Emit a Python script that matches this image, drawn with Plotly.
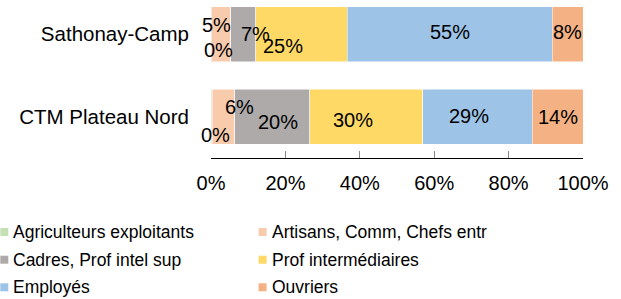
import plotly.graph_objects as go

categories = ["CTM Plateau Nord", "Sathonay-Camp"]
series_names = ["Agriculteurs exploitants", "Artisans, Comm, Chefs entr",
                "Cadres, Prof intel sup", "Prof intermédiaires", "Employés", "Ouvriers"]
agriculteurs = [0.3, 0.1]
artisans = [6.1, 5.2]
cadres = [20.1, 6.7]
prof_inter = [30.4, 24.6]
employes = [29.4, 55.1]
ouvriers = [13.7, 8.3]
tick_vals = [0, 20, 40, 60, 80, 100]
tick_labels = ["0%", "20%", "40%", "60%", "80%", "100%"]

series_values = [agriculteurs, artisans, cadres, prof_inter, employes, ouvriers]
colors = ["#c5e0b4", "#f8cbad", "#aeaaaa", "#ffd966", "#9dc3e6", "#f4b183"]

# label pixel offsets (style only): [series][category] -> (xshift, yshift)
label_offsets = [
    [(4, -18), (7, -16)],
    [(16, 10), (-5, 9)],
    [(6, -5), (12, 0)],
    [(-13, -3), (-18, -12)],
    [(-8, 1), (0, 2)],
    [(0, 0), (0, 2)],
]

FONT = "Liberation Sans, Arial, sans-serif"
W, H = 621, 299
ML, MR, MT, MB = 210.7, 38.3, 0, 141
PLOT_W = W - ML - MR
PLOT_H = H - MT - MB
BAND = 82.6  # px per category


def px_x(p):
    return (p - ML) / PLOT_W


def px_y(p):
    return (PLOT_H - p) / PLOT_H


fig = go.Figure()
for name, vals, col in zip(series_names, series_values, colors):
    fig.add_trace(go.Bar(
        name=name, y=categories, x=vals, orientation="h",
        marker=dict(color=col, line=dict(color="white", width=0.5)),
        cliponaxis=False, hoverinfo="skip"))

annotations = []
cum = [0.0] * len(categories)
for si, vals in enumerate(series_values):
    for ci, v in enumerate(vals):
        center = cum[ci] + v / 2
        cum[ci] += v
        dx, dy = label_offsets[si][ci]
        annotations.append(dict(
            x=center, y=categories[ci], xref="x", yref="y",
            text=f"{round(v)}%", showarrow=False, xshift=dx, yshift=dy,
            font=dict(family=FONT, size=20, color="#000000")))

# legend: two columns, three rows (drawn as paper-positioned keys)
shapes = []
leg_cols = [0, 258.3]
leg_rows = [232, 259.7, 287.3]
for i, (name, col) in enumerate(zip(series_names, colors)):
    cx = leg_cols[i % 2]
    cy = leg_rows[i // 2]
    shapes.append(dict(type="rect", xref="paper", yref="paper",
                       x0=px_x(cx), x1=px_x(cx + 8), y0=px_y(cy - 4), y1=px_y(cy + 4),
                       fillcolor=col, line=dict(width=0), layer="above"))
    annotations.append(dict(x=px_x(cx + 11), y=px_y(cy), xref="paper", yref="paper",
                            xanchor="left", yanchor="middle", showarrow=False,
                            text=name, font=dict(family=FONT, size=17.5, color="#000000")))

fig.update_layout(
    width=W, height=H,
    margin=dict(l=ML, r=MR, t=MT, b=MB, autoexpand=False),
    barmode="stack", bargap=0.334,
    plot_bgcolor="white", paper_bgcolor="white",
    font=dict(family=FONT, size=20, color="#000000"),
    annotations=annotations, shapes=shapes,
    showlegend=False,
    xaxis=dict(range=[0, 100], tickvals=tick_vals, ticktext=tick_labels,
               showgrid=False, zeroline=False, showline=True, linecolor="#000000",
               linewidth=1, ticks="inside", ticklen=7, tickcolor="#888888",
               ticklabelstandoff=7,
               tickfont=dict(family=FONT, size=20, color="#000000")),
    yaxis=dict(categoryorder="array", categoryarray=categories,
               range=[-0.5, -0.5 + PLOT_H / BAND], showgrid=False, zeroline=False,
               showline=False, ticks="", ticklabelstandoff=21,
               tickfont=dict(family=FONT, size=20.5, color="#000000")),
)
fig.write_html("out.html", config={"displayModeBar": False},
               post_script="document.body.style.margin='0';")
